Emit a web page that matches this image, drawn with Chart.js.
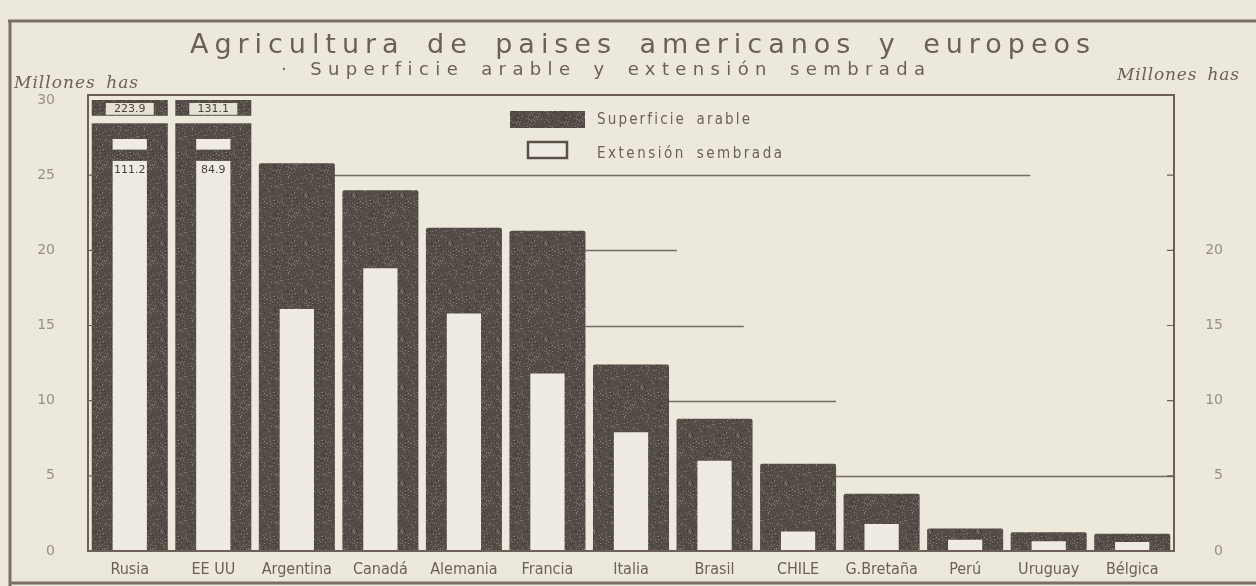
<!DOCTYPE html>
<html>
<head>
<meta charset="utf-8">
<script src="https://cdn.jsdelivr.net/npm/chart.js@4.4.1/dist/chart.umd.min.js"></script>
<style>
  html, body { margin: 0; padding: 0; background: #ece8dc; }
  canvas { display: block; }
</style>
</head>
<body>
<canvas id="grafico" width="1256" height="586"></canvas>
<script>
// datos (millones de ha)
const paises = ['Rusia', 'EE UU', 'Argentina', 'Canadá', 'Alemania', 'Francia', 'Italia',
                'Brasil', 'CHILE', 'G.Bretaña', 'Perú', 'Uruguay', 'Bélgica'];
const superficieArable = [223.9, 131.1, 25.8, 24.0, 21.5, 21.3, 12.4, 8.8, 5.8, 3.8, 1.5, 1.25, 1.15];
const extensionSembrada = [111.2, 84.9, 16.1, 18.8, 15.8, 11.8, 7.9, 6.0, 1.3, 1.8, 0.75, 0.65, 0.6];
const ticksIzq = [0, 5, 10, 15, 20, 25, 30];
const ticksDer = [0, 5, 10, 15, 20];
const yMax = 30;
const corteSembrada = 27.4;   // las barras blancas cortadas llegan hasta aqui

const fondo = '#ece8dc';
const tinta = '#6b5f57';
const claro = '#efebe2';

function texturaOscura() {
  const c = document.createElement('canvas');
  c.width = c.height = 48;
  const g = c.getContext('2d');
  g.fillStyle = '#544d48';
  g.fillRect(0, 0, 48, 48);
  for (let y = 0; y < 48; y++) {
    for (let x = 0; x < 48; x++) {
      const h = (Math.imul(x, 374761393) ^ Math.imul(y, 668265263) ^ Math.imul(x * y + 7, 2654435761)) >>> 0;
      const k = h % 97;
      if (k < 7) { g.fillStyle = 'rgba(170,160,150,0.5)'; g.fillRect(x, y, 1, 1); }
      else if (k < 15) { g.fillStyle = 'rgba(40,35,32,0.45)'; g.fillRect(x, y, 1, 1); }
    }
  }
  return g.createPattern(c, 'repeat');
}
const oscuro = texturaOscura();

function textoAncho(ctx, txt, x, y, ancho, palabra) {
  ctx.wordSpacing = (palabra || 0) + 'px';
  ctx.letterSpacing = '0px';
  const w = ctx.measureText(txt).width;
  const sp = Math.max(0, (ancho - w) / (txt.length - 1));
  ctx.letterSpacing = sp + 'px';
  ctx.textAlign = 'left';
  ctx.fillText(txt, x, y);
  ctx.letterSpacing = '0px';
  ctx.wordSpacing = '0px';
}

// fondo, marco, titulos y leyenda
const marco = {
  id: 'marco',
  beforeDraw(chart) {
    const ctx = chart.ctx;
    ctx.save();
    ctx.fillStyle = fondo;
    ctx.fillRect(0, 0, chart.width, chart.height);
    ctx.restore();
  },
  beforeDatasetsDraw(chart) {
    const ctx = chart.ctx, y = chart.scales.y, x = chart.scales.x;
    const meta = chart.getDatasetMeta(0);
    const bordeDer = (i) => meta.data[i].x + meta.data[i].width / 2;
    // restos de lineas de division que se ven en el original
    const sueltas = [[25, 2, x.getPixelForValue(10.78)], [20, 5, x.getPixelForValue(6.55)],
                     [15, 5, x.getPixelForValue(7.35)], [10, 6, bordeDer(8)], [5, 8, chart.chartArea.right]];
    ctx.save();
    ctx.strokeStyle = 'rgba(95,85,78,0.85)';
    ctx.lineWidth = 1.5;
    sueltas.forEach(([v, desde, hasta]) => {
      const py = Math.round(y.getPixelForValue(v)) + 0.5;
      ctx.beginPath();
      ctx.moveTo(bordeDer(desde), py);
      ctx.lineTo(hasta, py);
      ctx.stroke();
    });
    ctx.restore();
  },
  afterDraw(chart) {
    const ctx = chart.ctx, y = chart.scales.y;
    const area = chart.chartArea;
    ctx.save();
    // marco exterior
    ctx.strokeStyle = '#7a6e67';
    ctx.lineWidth = 3;
    ctx.beginPath();
    ctx.moveTo(8, 21); ctx.lineTo(1256, 21);
    ctx.moveTo(10, 21); ctx.lineTo(10, 586);
    ctx.moveTo(10, 583); ctx.lineTo(1256, 583);
    ctx.stroke();
    // caja del grafico
    ctx.strokeStyle = tinta;
    ctx.lineWidth = 2;
    ctx.strokeRect(area.left, 95, area.right - area.left, area.bottom - 95);
    ctx.lineWidth = 1.2;
    ctx.beginPath();
    ticksIzq.forEach(v => {
      const py = y.getPixelForValue(v);
      if (v > 0 && v < yMax) {
        ctx.moveTo(area.left, py); ctx.lineTo(area.left + 7, py);
        ctx.moveTo(area.right - 7, py); ctx.lineTo(area.right, py);
      }
    });
    ctx.stroke();

    // titulos
    ctx.fillStyle = tinta;
    ctx.textBaseline = 'alphabetic';
    ctx.font = '27px "DejaVu Sans"';
    textoAncho(ctx, 'Agricultura de paises americanos y europeos', 190, 53, 900, 8);
    ctx.font = '18px "DejaVu Sans"';
    textoAncho(ctx, '· Superficie arable y extensión sembrada', 281, 75, 644, 5);
    ctx.font = 'italic 17px "DejaVu Serif"';
    textoAncho(ctx, 'Millones has', 14, 88, 124, 4);
    textoAncho(ctx, 'Millones has', 1117, 80, 122, 4);

    // leyenda
    ctx.fillStyle = oscuro;
    ctx.fillRect(510, 111, 75, 17);
    ctx.fillStyle = claro;
    ctx.fillRect(528, 142, 39, 16);
    ctx.strokeStyle = '#5a514b';
    ctx.lineWidth = 2.5;
    ctx.strokeRect(528, 142, 39, 16);
    ctx.fillStyle = tinta;
    ctx.font = '15px "DejaVu Sans Condensed"';
    textoAncho(ctx, 'Superficie arable', 597, 124, 153, 4);
    textoAncho(ctx, 'Extensión sembrada', 597, 158, 185, 4);
    ctx.restore();
  }
};

// cortes de las barras que se salen de la escala
const cortes = {
  id: 'cortes',
  afterDatasetsDraw(chart) {
    const ctx = chart.ctx, y = chart.scales.y;
    const metaA = chart.getDatasetMeta(0), metaS = chart.getDatasetMeta(1);
    ctx.save();
    ctx.font = '11px "DejaVu Sans"';
    ctx.textAlign = 'center';
    ctx.textBaseline = 'middle';
    superficieArable.forEach((v, i) => {
      if (v <= yMax) return;
      const b = metaA.data[i];
      const g1 = y.getPixelForValue(28.95), g2 = y.getPixelForValue(28.45);
      ctx.fillStyle = fondo;
      ctx.fillRect(b.x - b.width / 2 - 1, g1, b.width + 2, g2 - g1);
      const e1 = y.getPixelForValue(29.8);
      ctx.fillStyle = '#e6e1d5';
      ctx.fillRect(b.x - 24, e1, 48, g1 - e1 - 1);
      ctx.fillStyle = '#4a423d';
      ctx.fillText(v.toFixed(1), b.x, (e1 + g1) / 2);
    });
    extensionSembrada.forEach((v, i) => {
      if (v <= yMax) return;
      const b = metaS.data[i];
      const d1 = y.getPixelForValue(26.7), d2 = y.getPixelForValue(25.95);
      ctx.fillStyle = oscuro;
      ctx.fillRect(b.x - b.width / 2 - 1, d1, b.width + 2, d2 - d1);
      ctx.fillStyle = '#4a423d';
      ctx.fillText(v.toFixed(1), b.x, y.getPixelForValue(25.35));
    });
    ctx.restore();
  }
};

const fuenteTicks = { family: 'DejaVu Sans', size: 14 };

new Chart(document.getElementById('grafico'), {
  type: 'bar',
  data: {
    labels: paises,
    datasets: [
      {
        label: 'Superficie arable',
        data: superficieArable,
        backgroundColor: oscuro,
        borderRadius: 2,
        barPercentage: 0.91,
        categoryPercentage: 1,
        grouped: false,
        order: 2
      },
      {
        label: 'Extensión sembrada',
        data: extensionSembrada.map(v => v > yMax ? corteSembrada : v),
        backgroundColor: claro,
        barPercentage: 0.41,
        categoryPercentage: 1,
        grouped: false,
        order: 1
      }
    ]
  },
  options: {
    responsive: false,
    animation: false,
    layout: { padding: { left: 10, right: 33, top: 100, bottom: 0 } },
    plugins: {
      legend: { display: false },
      tooltip: { enabled: false },
      title: { display: false }
    },
    scales: {
      x: {
        grid: { display: false, drawTicks: false },
        border: { display: false },
        ticks: {
          color: tinta,
          font: { family: 'DejaVu Sans Condensed', size: 16 },
          padding: 9,
          autoSkip: false,
          maxRotation: 0
        },
        afterFit(scale) { scale.height = 35; }
      },
      y: {
        min: 0,
        max: yMax,
        grid: { display: false, drawTicks: false },
        border: { display: false },
        ticks: { color: '#9a8f86', font: fuenteTicks, padding: 33 },
        afterBuildTicks(scale) { scale.ticks = ticksIzq.map(v => ({ value: v })); },
        afterFit(scale) { scale.width = 78; scale.paddingTop = 0; scale.paddingBottom = 0; }
      },
      y2: {
        position: 'right',
        min: 0,
        max: yMax,
        grid: { display: false, drawTicks: false },
        border: { display: false },
        ticks: { color: '#9a8f86', font: fuenteTicks, padding: 0, crossAlign: 'far' },
        afterBuildTicks(scale) { scale.ticks = ticksDer.map(v => ({ value: v })); },
        afterFit(scale) { scale.width = 49; scale.paddingTop = 0; scale.paddingBottom = 0; }
      }
    }
  },
  plugins: [marco, cortes]
});
</script>
</body>
</html>
